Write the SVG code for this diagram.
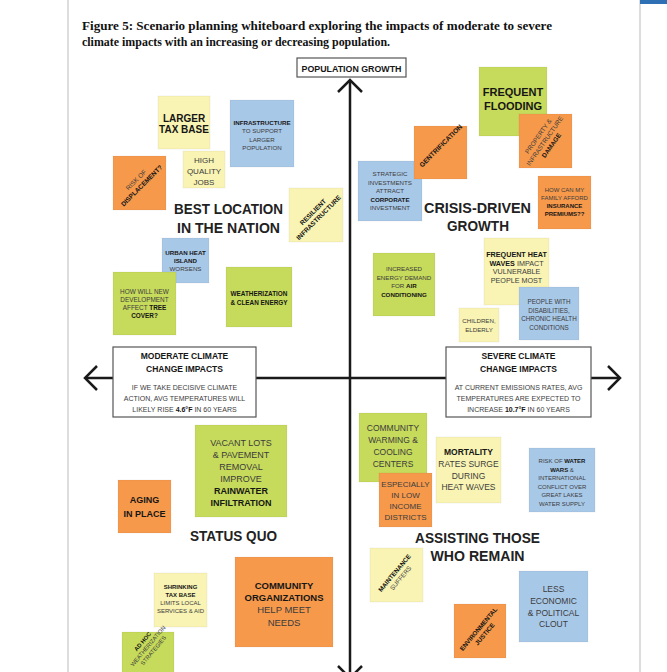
<svg xmlns="http://www.w3.org/2000/svg" width="667" height="672" viewBox="0 0 667 672">
<defs>
<style>
.bg{fill:#ffffff}
.y{fill:#f9f4b3}
.bl{fill:#a8c8e8}
.g{fill:#c6da5b}
.o{fill:#f6994b}
.n{stroke:#000;stroke-opacity:0.05;stroke-width:1}
.t{font-family:"Liberation Sans",Arial,sans-serif;fill:#3c3c3c;text-anchor:middle}
.b{font-weight:bold;fill:#161616}
.h{font-family:"Liberation Sans",Arial,sans-serif;font-weight:bold;fill:#222;text-anchor:middle;font-size:15px}
.ttl{font-family:"Liberation Serif","Times New Roman",serif;font-weight:bold;font-size:13px;fill:#111}
.ax{stroke:#1a1a1a;stroke-width:2.5;fill:none}
.box{fill:#fff;stroke:#555;stroke-width:1.2}
</style>
</defs>
<rect class="bg" x="0" y="0" width="667" height="672"/>
<line x1="68" y1="0" x2="68" y2="672" stroke="#bbb" stroke-width="1"/>
<line x1="640" y1="0" x2="640" y2="672" stroke="#bbb" stroke-width="1"/>
<rect x="640" y="0" width="27" height="4" fill="#2f6fb3"/>

<g id="title">
<text class="ttl" x="82" y="30" textLength="470" lengthAdjust="spacingAndGlyphs">Figure 5: Scenario planning whiteboard exploring the impacts of moderate to severe</text>
<text class="ttl" x="82" y="46" textLength="308" lengthAdjust="spacingAndGlyphs">climate impacts with an increasing or decreasing population.</text>
</g>

<g id="connectors">
<line class="ax" x1="350" y1="80" x2="350" y2="678"/>
<polyline class="ax" points="338,92 350,80 362,92"/>
<polyline class="ax" points="338,666 350,678 362,666"/>
<line class="ax" x1="85" y1="378" x2="620" y2="378"/>
<polyline class="ax" points="97,366 85,378 97,390"/>
<polyline class="ax" points="608,366 620,378 608,390"/>
</g>

<g id="population-growth">
<rect class="box" x="297" y="58" width="109" height="19"/>
<text class="t b" x="351.5" y="71.5" font-size="9.5" textLength="100" lengthAdjust="spacingAndGlyphs">POPULATION GROWTH</text>
</g>

<g id="moderate">
<rect class="box" x="113" y="347" width="143" height="70"/>
<text class="t b" x="184.5" y="359" font-size="8.5">MODERATE CLIMATE</text>
<text class="t b" x="184.5" y="372" font-size="8.5">CHANGE IMPACTS</text>
<text class="t" x="184.5" y="390" font-size="7">IF WE TAKE DECISIVE CLIMATE</text>
<text class="t" x="184.5" y="401" font-size="7">ACTION, AVG TEMPERATURES WILL</text>
<text class="t" x="184.5" y="412" font-size="7">LIKELY RISE <tspan class="b">4.6°F</tspan> IN 60 YEARS</text>
</g>

<g id="severe">
<rect class="box" x="446" y="347" width="145" height="70"/>
<text class="t b" x="518.5" y="359" font-size="8.5">SEVERE CLIMATE</text>
<text class="t b" x="518.5" y="372" font-size="8.5">CHANGE IMPACTS</text>
<text class="t" x="518.5" y="390" font-size="7">AT CURRENT EMISSIONS RATES, AVG</text>
<text class="t" x="518.5" y="401" font-size="7">TEMPERATURES ARE EXPECTED TO</text>
<text class="t" x="518.5" y="412" font-size="7">INCREASE <tspan class="b">10.7°F</tspan> IN 60 YEARS</text>
</g>

<!-- Top-left quadrant -->
<g id="larger-tax-base">
<rect class="y n" x="158" y="96" width="52" height="53"/>
<text class="t b" x="184" y="122" font-size="10">LARGER</text>
<text class="t b" x="184" y="133" font-size="10">TAX BASE</text>
</g>
<g id="infrastructure-support">
<rect class="bl n" x="230" y="100" width="64" height="67"/>
<text class="t b" x="262" y="125" font-size="6.2">INFRASTRUCTURE</text>
<text class="t" x="262" y="133" font-size="6.2">TO SUPPORT</text>
<text class="t" x="262" y="141.5" font-size="6.2">LARGER</text>
<text class="t" x="262" y="150" font-size="6.2">POPULATION</text>
</g>
<g id="high-quality-jobs">
<rect class="y n" x="183" y="151" width="42" height="37"/>
<text class="t" x="204" y="163" font-size="8">HIGH</text>
<text class="t" x="204" y="174" font-size="8">QUALITY</text>
<text class="t" x="204" y="185" font-size="8">JOBS</text>
</g>
<g id="risk-displacement">
<rect class="o n" x="113" y="156" width="53" height="54"/>
<g transform="translate(139,183) rotate(-45)">
<text class="t" x="0" y="-2" font-size="6.5">RISK OF</text>
<text class="t b" x="0" y="6" font-size="6.5">DISPLACEMENT?</text>
</g>
</g>
<g id="resilient-infrastructure">
<rect class="y n" x="289" y="188" width="54" height="54"/>
<g transform="translate(316,215) rotate(-45)">
<text class="t b" x="0" y="-2" font-size="6.5">RESILIENT</text>
<text class="t b" x="0" y="6" font-size="6.5">INFRASTRUCTURE</text>
</g>
</g>
<g id="best-location">
<text class="h" x="228.5" y="214" textLength="109" lengthAdjust="spacingAndGlyphs">BEST LOCATION</text>
<text class="h" x="228.5" y="233" textLength="103" lengthAdjust="spacingAndGlyphs">IN THE NATION</text>
</g>
<g id="urban-heat-island">
<rect class="bl n" x="162" y="238" width="47" height="45"/>
<text class="t b" x="185.5" y="255" font-size="6.2">URBAN HEAT</text>
<text class="t b" x="185.5" y="263" font-size="6.2">ISLAND</text>
<text class="t" x="185.5" y="271" font-size="6.2">WORSENS</text>
</g>
<g id="tree-cover">
<rect class="g n" x="113" y="272" width="63" height="63"/>
<text class="t" x="144.5" y="294" font-size="6.4">HOW WILL NEW</text>
<text class="t" x="144.5" y="302" font-size="6.4">DEVELOPMENT</text>
<text class="t" x="144.5" y="310" font-size="6.4">AFFECT <tspan class="b">TREE</tspan></text>
<text class="t b" x="144.5" y="318" font-size="6.4">COVER?</text>
</g>
<g id="weatherization">
<rect class="g n" x="226" y="267" width="66" height="60"/>
<text class="t b" x="259" y="296" font-size="6.4">WEATHERIZATION</text>
<text class="t b" x="259" y="304.5" font-size="6.4">&amp; CLEAN ENERGY</text>
</g>

<!-- Top-right quadrant -->
<g id="strategic-investments">
<rect class="bl n" x="358" y="161" width="64" height="60"/>
<text class="t" x="390" y="176" font-size="6.2">STRATEGIC</text>
<text class="t" x="390" y="184.5" font-size="6.2">INVESTMENTS</text>
<text class="t" x="390" y="193" font-size="6.2">ATTRACT</text>
<text class="t b" x="390" y="201.5" font-size="6.2">CORPORATE</text>
<text class="t" x="390" y="210" font-size="6.2">INVESTMENT</text>
</g>
<g id="gentrification">
<rect class="o n" x="414" y="126" width="53" height="53"/>
<g transform="translate(441,146) rotate(-45)">
<text class="t b" x="0" y="2" font-size="6.8">GENTRIFICATION</text>
</g>
</g>
<g id="frequent-flooding">
<rect class="g n" x="479" y="67" width="68" height="69"/>
<text class="t b" x="513" y="96" font-size="11">FREQUENT</text>
<text class="t b" x="513" y="110" font-size="11">FLOODING</text>
</g>
<g id="property-damage">
<rect class="o n" x="519" y="114" width="53" height="54"/>
<g transform="translate(545,141) rotate(-55)">
<text class="t" x="0" y="-6" font-size="6.4">PROPERTY &amp;</text>
<text class="t" x="0" y="2" font-size="6.4">INFRASTRUCTURE</text>
<text class="t b" x="0" y="10" font-size="6.4">DAMAGE</text>
</g>
</g>
<g id="insurance">
<rect class="o n" x="538" y="176" width="53" height="53"/>
<text class="t" x="564.5" y="192" font-size="6">HOW CAN MY</text>
<text class="t" x="564.5" y="200" font-size="6">FAMILY AFFORD</text>
<text class="t b" x="564.5" y="208" font-size="6">INSURANCE</text>
<text class="t b" x="564.5" y="216" font-size="6">PREMIUMS??</text>
</g>
<g id="crisis-driven">
<text class="h" x="477.5" y="213" textLength="107" lengthAdjust="spacingAndGlyphs">CRISIS-DRIVEN</text>
<text class="h" x="478" y="231" textLength="62" lengthAdjust="spacingAndGlyphs">GROWTH</text>
</g>
<g id="air-conditioning">
<rect class="g n" x="373" y="253" width="62" height="63"/>
<text class="t" x="404" y="271" font-size="6.2">INCREASED</text>
<text class="t" x="404" y="279.5" font-size="6.2">ENERGY DEMAND</text>
<text class="t" x="404" y="288" font-size="6.2">FOR <tspan class="b">AIR</tspan></text>
<text class="t b" x="404" y="296.5" font-size="6.2">CONDITIONING</text>
</g>
<g id="heat-waves">
<rect class="y n" x="484" y="238" width="65" height="67"/>
<text class="t b" x="516.5" y="257" font-size="7.2">FREQUENT HEAT</text>
<text class="t" x="516.5" y="265.5" font-size="7.2"><tspan class="b">WAVES</tspan> IMPACT</text>
<text class="t" x="516.5" y="274" font-size="7.2">VULNERABLE</text>
<text class="t" x="516.5" y="282.5" font-size="7.2">PEOPLE MOST</text>
</g>
<g id="disabilities">
<rect class="bl n" x="519" y="287" width="60" height="53"/>
<text class="t" x="549" y="304" font-size="6.3">PEOPLE WITH</text>
<text class="t" x="549" y="312.5" font-size="6.3">DISABILITIES,</text>
<text class="t" x="549" y="321" font-size="6.3">CHRONIC HEALTH</text>
<text class="t" x="549" y="329.5" font-size="6.3">CONDITIONS</text>
</g>
<g id="children-elderly">
<rect class="y n" x="459" y="308" width="40" height="34"/>
<text class="t" x="479" y="323" font-size="6.2">CHILDREN,</text>
<text class="t" x="479" y="331.5" font-size="6.2">ELDERLY</text>
</g>

<!-- Bottom-left quadrant -->
<g id="vacant-lots">
<rect class="g n" x="195" y="425" width="92" height="92"/>
<text class="t" x="241" y="446" font-size="9">VACANT LOTS</text>
<text class="t" x="241" y="458" font-size="9">&amp; PAVEMENT</text>
<text class="t" x="241" y="469.5" font-size="9">REMOVAL</text>
<text class="t" x="241" y="481.5" font-size="9">IMPROVE</text>
<text class="t b" x="241" y="494" font-size="9">RAINWATER</text>
<text class="t b" x="241" y="506" font-size="9">INFILTRATION</text>
</g>
<g id="aging-in-place">
<rect class="o n" x="118" y="480" width="53" height="53"/>
<text class="t b" x="144.5" y="503" font-size="9">AGING</text>
<text class="t b" x="144.5" y="517" font-size="9">IN PLACE</text>
</g>
<g id="status-quo">
<text class="h" x="233.5" y="541" textLength="87" lengthAdjust="spacingAndGlyphs">STATUS QUO</text>
</g>
<g id="shrinking-tax-base">
<rect class="y n" x="154" y="573" width="53" height="54"/>
<text class="t b" x="180.5" y="589" font-size="6">SHRINKING</text>
<text class="t b" x="180.5" y="597" font-size="6">TAX BASE</text>
<text class="t" x="180.5" y="605" font-size="6">LIMITS LOCAL</text>
<text class="t" x="180.5" y="613" font-size="6">SERVICES &amp; AID</text>
</g>
<g id="community-organizations">
<rect class="o n" x="235" y="557" width="98" height="90"/>
<text class="t b" x="284" y="589" font-size="9.5">COMMUNITY</text>
<text class="t b" x="284" y="601" font-size="9.5">ORGANIZATIONS</text>
<text class="t" x="284" y="613" font-size="9.5">HELP MEET</text>
<text class="t" x="284" y="625.5" font-size="9.5">NEEDS</text>
</g>
<g id="ad-hoc">
<rect class="g n" x="122" y="632" width="52" height="50"/>
<g transform="translate(148,646) rotate(-50)">
<text class="t b" x="0" y="-5" font-size="5.8">AD HOC</text>
<text class="t" x="0" y="2" font-size="5.8">WEATHERIZATION</text>
<text class="t" x="0" y="9" font-size="5.8">STRATEGIES</text>
</g>
</g>

<!-- Bottom-right quadrant -->
<g id="warming-cooling">
<rect class="g n" x="359" y="413" width="68" height="69"/>
<text class="t" x="393" y="431" font-size="8.5">COMMUNITY</text>
<text class="t" x="393" y="443" font-size="8.5">WARMING &amp;</text>
<text class="t" x="393" y="455" font-size="8.5">COOLING</text>
<text class="t" x="393" y="466.5" font-size="8.5">CENTERS</text>
</g>
<g id="low-income">
<rect class="o n" x="379" y="473" width="53" height="54"/>
<text class="t" x="405.5" y="487" font-size="8">ESPECIALLY</text>
<text class="t" x="405.5" y="498" font-size="8">IN LOW</text>
<text class="t" x="405.5" y="509" font-size="8">INCOME</text>
<text class="t" x="405.5" y="520" font-size="8">DISTRICTS</text>
</g>
<g id="mortality">
<rect class="y n" x="436" y="437" width="65" height="66"/>
<text class="t b" x="468.5" y="455" font-size="8.5">MORTALITY</text>
<text class="t" x="468.5" y="467" font-size="8.5">RATES SURGE</text>
<text class="t" x="468.5" y="478.5" font-size="8.5">DURING</text>
<text class="t" x="468.5" y="490" font-size="8.5">HEAT WAVES</text>
</g>
<g id="water-wars">
<rect class="bl n" x="529" y="448" width="66" height="64"/>
<text class="t" x="562" y="463" font-size="6"><tspan>RISK OF </tspan><tspan class="b">WATER</tspan></text>
<text class="t" x="562" y="471.5" font-size="6"><tspan class="b">WARS</tspan> &amp;</text>
<text class="t" x="562" y="480" font-size="6">INTERNATIONAL</text>
<text class="t" x="562" y="488.5" font-size="6">CONFLICT OVER</text>
<text class="t" x="562" y="497" font-size="6">GREAT LAKES</text>
<text class="t" x="562" y="505.5" font-size="6">WATER SUPPLY</text>
</g>
<g id="assisting">
<text class="h" x="477.5" y="543" textLength="125" lengthAdjust="spacingAndGlyphs">ASSISTING THOSE</text>
<text class="h" x="477.5" y="561" textLength="94" lengthAdjust="spacingAndGlyphs">WHO REMAIN</text>
</g>
<g id="maintenance">
<rect class="y n" x="370" y="548" width="53" height="54"/>
<g transform="translate(397,575) rotate(-50)">
<text class="t b" x="0" y="-1" font-size="6.3">MAINTENANCE</text>
<text class="t" x="0" y="7" font-size="6.3">SUFFERS</text>
</g>
</g>
<g id="economic-clout">
<rect class="bl n" x="519" y="571" width="69" height="71"/>
<text class="t" x="553.5" y="592" font-size="8.5">LESS</text>
<text class="t" x="553.5" y="604" font-size="8.5">ECONOMIC</text>
<text class="t" x="553.5" y="615.5" font-size="8.5">&amp; POLITICAL</text>
<text class="t" x="553.5" y="627" font-size="8.5">CLOUT</text>
</g>
<g id="environmental-justice">
<rect class="o n" x="454" y="604" width="52" height="54"/>
<g transform="translate(481,631) rotate(-50)">
<text class="t b" x="0" y="-1" font-size="6.3">ENVIRONMENTAL</text>
<text class="t b" x="0" y="7" font-size="6.3">JUSTICE</text>
</g>
</g>
</svg>
